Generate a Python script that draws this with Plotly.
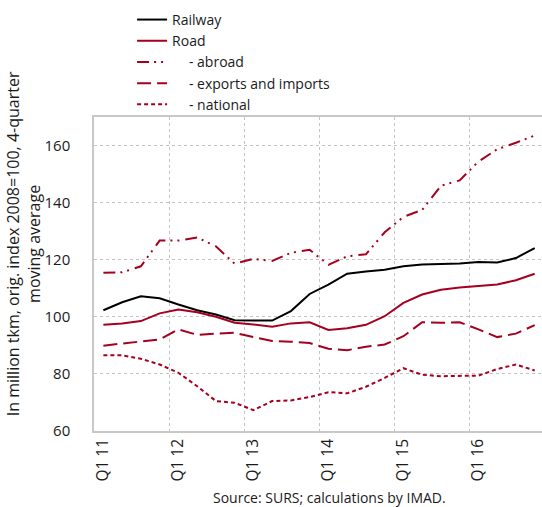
import plotly.graph_objects as go

quarters = [f"Q{q} {y}" for y in range(11, 17) for q in range(1, 5)]
railway = [102.3, 105.1, 107.2, 106.5, 104.3, 102.3, 100.8, 98.8,
           98.7, 98.7, 102.0, 108.0, 111.3, 115.1, 115.9, 116.5,
           117.7, 118.3, 118.5, 118.7, 119.2, 119.0, 120.6, 124.1]
road = [97.2, 97.7, 98.5, 101.2, 102.6, 101.6, 100.0, 97.9,
        97.3, 96.5, 97.7, 98.1, 95.4, 96.0, 97.2, 100.2,
        104.9, 107.8, 109.5, 110.3, 110.8, 111.3, 112.8, 115.1]
abroad = [115.4, 115.6, 117.7, 126.7, 126.7, 127.8, 124.7, 118.6,
          120.3, 119.6, 122.4, 123.5, 118.2, 121.2, 121.9, 129.6,
          135.0, 137.5, 145.9, 147.8, 154.4, 158.7, 161.0, 163.5]
exports_imports = [89.9, 90.7, 91.5, 92.1, 95.6, 93.7, 94.1, 94.4,
                   92.9, 91.5, 91.3, 90.8, 88.8, 88.3, 89.5, 90.3,
                   93.2, 98.1, 97.9, 98.1, 95.6, 92.9, 94.1, 97.1]
national = [86.5, 86.5, 85.3, 83.3, 80.4, 75.7, 70.5, 69.9,
            67.3, 70.5, 70.7, 71.9, 73.6, 73.2, 75.5, 78.6,
            82.0, 79.7, 79.2, 79.2, 79.4, 81.7, 83.3, 81.2]
y_ticks = [60, 80, 100, 120, 140, 160]

RED = "#a5001f"
NB = "\u00a0"
x = list(range(len(quarters)))

series = [
    ("Railway", railway, "black", "solid"),
    ("Road", road, RED, "solid"),
    (NB * 4 + "\u2009- abroad", abroad, RED, "12px,5px,2px,5px,2px,6px"),
    (NB * 4 + "\u2009- exports and imports", exports_imports, RED, "14px,6px"),
    (NB * 4 + "\u2009- national", national, RED, "4px,3px"),
]

fig = go.Figure()
for name, vals, color, dash in series:
    fig.add_trace(go.Scatter(x=x, y=vals, name=name, mode="lines",
                             line=dict(color=color, width=2, dash=dash)))

FONT = "Open Sans"
fig.update_layout(
    width=542, height=507,
    margin=dict(l=94, r=0, t=117, b=76, autoexpand=False),
    plot_bgcolor="white", paper_bgcolor="white",
    font=dict(family=FONT, size=14, color="#1a1a1a"),
    showlegend=True,
    legend=dict(x=0.085, y=1.36, xanchor="left", yanchor="top",
                bgcolor="rgba(0,0,0,0)", font=dict(size=14),
                tracegroupgap=0),
)

tickpos = [i for i, q in enumerate(quarters) if q.startswith("Q1")]
fig.update_xaxes(
    range=[-0.5, 23.39],
    tickmode="array", tickvals=tickpos,
    ticktext=[quarters[i] for i in tickpos],
    tickangle=-90, ticks="", showgrid=False, automargin=False,
    showline=True, linecolor="#c8c8c8", linewidth=1.5, mirror=True,
    minor=dict(tickmode="linear", tick0=-0.5, dtick=4, showgrid=True,
               gridcolor="#c4c4c4", griddash="dot", gridwidth=1, ticks=""),
    zeroline=False, tickfont=dict(size=15.5),
)
fig.update_yaxes(
    range=[60, 170], tickmode="array", tickvals=y_ticks,
    ticks="", ticklabelstandoff=19, automargin=False,
    showgrid=True, gridcolor="#c4c4c4", griddash="dot", gridwidth=1,
    showline=True, linecolor="#c8c8c8", linewidth=1.5,
    zeroline=False, tickfont=dict(size=15),
)

fig.add_annotation(
    text="In million tkm, orig. index 2008=100, 4-quarter<br>moving average",
    xref="paper", yref="paper", x=-0.157, y=0.597,
    xanchor="center", yanchor="middle", textangle=-90, showarrow=False,
    font=dict(size=16),
)
fig.add_annotation(
    text="Source: SURS; calculations by IMAD.",
    xref="paper", yref="paper", x=0.525, y=-0.213,
    xanchor="center", yanchor="middle", showarrow=False,
    font=dict(size=14),
)

fig.write_html("out.html", config={"displayModeBar": False},
               post_script="document.body.style.margin='0';")
